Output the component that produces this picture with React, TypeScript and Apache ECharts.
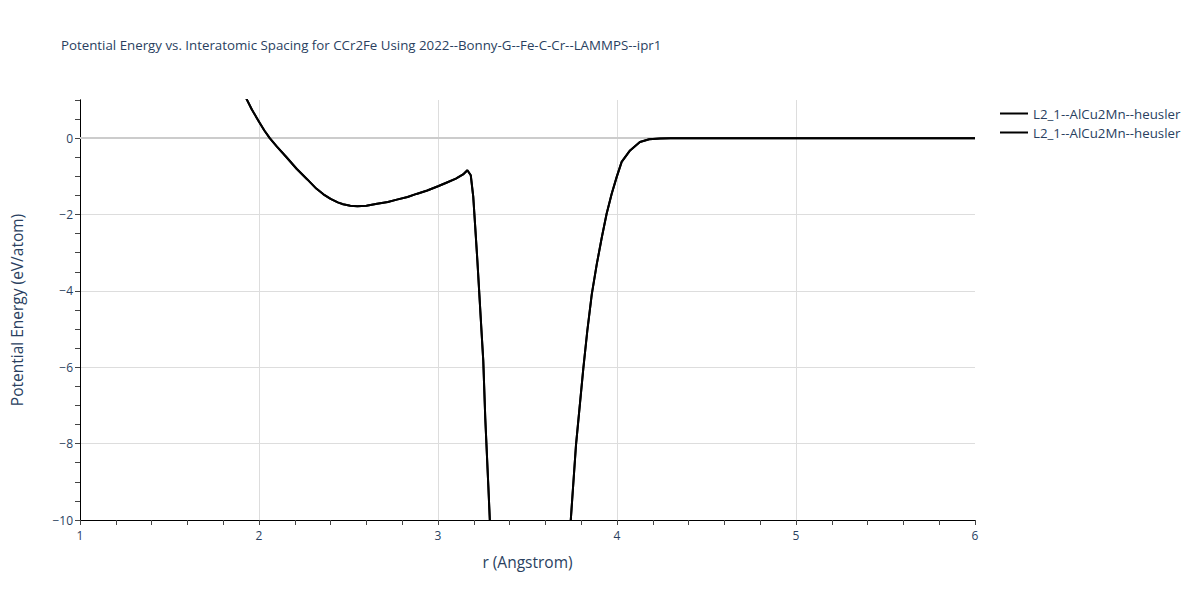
import React, { useEffect, useRef } from "react";
import * as echarts from "echarts";

const titleText = "Potential Energy vs. Interatomic Spacing for CCr2Fe Using 2022--Bonny-G--Fe-C-Cr--LAMMPS--ipr1";
const seriesNames = ["L2_1--AlCu2Mn--heusler", "L2_1--AlCu2Mn--heusler"];
const xAxisTitle = "r (Angstrom)";
const yAxisTitle = "Potential Energy (eV/atom)";

const rValues = [
  1.9, 1.93, 1.96, 2.0, 2.03, 2.06, 2.1, 2.15, 2.21, 2.27, 2.32, 2.36, 2.4, 2.44, 2.47, 2.51, 2.55,
  2.6, 2.66, 2.72, 2.77, 2.83, 2.88, 2.94, 3.0, 3.05, 3.1, 3.14, 3.164, 3.183, 3.197, 3.208, 3.22, 3.231,
  3.242, 3.253, 3.264, 3.281, 3.29, 3.3, 3.35, 3.5, 3.65, 3.72, 3.741, 3.771, 3.812, 3.834, 3.859,
  3.887, 3.915, 3.942, 3.97, 3.998, 4.026, 4.073, 4.128, 4.18, 4.24, 4.3, 4.5, 5.0, 5.5, 6.0,
];
const energyValues = [
  1.3, 1.03, 0.75, 0.43, 0.2, 0.0, -0.22, -0.48, -0.8, -1.08, -1.32, -1.47, -1.59, -1.68, -1.73, -1.77, -1.78,
  -1.77, -1.72, -1.67, -1.61, -1.54, -1.46, -1.37, -1.26, -1.16, -1.06, -0.95, -0.84, -0.97, -1.54, -2.33, -3.21, -4.09,
  -4.97, -5.84, -7.33, -9.09, -10.05, -11.3, -17, -25, -17, -11.5, -10.05, -8.03, -6.02, -5.05, -4.09,
  -3.3, -2.6, -1.98, -1.46, -1.02, -0.62, -0.32, -0.1, -0.03, -0.01, 0, 0, 0, 0, 0,
];

const xTicks = { min: 1, max: 6, interval: 1 };
const yTicks = { min: -10, max: 1, interval: 2, minorInterval: 0.5 };

const FONT = "'Open Sans', verdana, arial, sans-serif";
const TEXT_COLOR = "#2a3f5f";
const GRID_COLOR = "#dddddd";
const CLEAR = "rgba(0,0,0,0)";

export default function App() {
  const ref = useRef<HTMLDivElement>(null);
  useEffect(() => {
    if (!ref.current) return;
    const chart = echarts.init(ref.current, undefined, { renderer: "svg" });
    const data = rValues.map((r, i) => [r, energyValues[i]]);
    const fmt = (v: number) => String(v).replace("-", "\u2212");
    chart.setOption({
      animation: false,
      backgroundColor: "#fff",
      textStyle: { fontFamily: FONT },
      title: {
        text: titleText,
        left: 61,
        top: 38,
        padding: 0,
        textStyle: { fontSize: 13.3, fontWeight: "normal", color: TEXT_COLOR, fontFamily: FONT },
      },
      legend: [0, 1].map((i) => ({
        data: [seriesNames[i]],
        left: 1000,
        top: 107 + i * 19,
        orient: "vertical",
        icon: "rect",
        itemWidth: 28,
        itemHeight: 2,
        itemGap: 6,
        padding: 0,
        textStyle: { fontSize: 13.3, color: TEXT_COLOR, fontFamily: FONT },
      })),
      grid: { left: 80, right: 225, top: 100, bottom: 80, containLabel: false },
      xAxis: {
        type: "value",
        min: xTicks.min,
        max: xTicks.max,
        interval: xTicks.interval,
        position: "bottom",
        name: xAxisTitle,
        nameLocation: "middle",
        nameGap: 34,
        nameTextStyle: { fontSize: 15.5, color: TEXT_COLOR, fontFamily: FONT },
        axisLine: { show: true, onZero: false, lineStyle: { color: "#000", width: 1 } },
        axisTick: { show: true, length: 5, lineStyle: { color: "#444" } },
        minorTick: { show: true, splitNumber: 5, length: 5, lineStyle: { color: "#444" } },
        axisLabel: { fontSize: 12, color: TEXT_COLOR, margin: 9, fontFamily: FONT },
        splitLine: {
          show: true,
          lineStyle: {
            color: [CLEAR, GRID_COLOR, GRID_COLOR, GRID_COLOR, GRID_COLOR, CLEAR],
            width: 1,
          },
        },
      },
      yAxis: [
        {
          type: "value",
          min: yTicks.min,
          max: yTicks.max,
          interval: yTicks.interval,
          position: "left",
          name: yAxisTitle,
          nameLocation: "middle",
          nameGap: 55,
          nameTextStyle: { fontSize: 15.5, color: TEXT_COLOR, fontFamily: FONT },
          axisLine: { show: true, onZero: false, lineStyle: { color: "#000", width: 1 } },
          axisTick: { show: false },
          axisLabel: {
            fontSize: 12,
            color: TEXT_COLOR,
            margin: 7,
            fontFamily: FONT,
            showMaxLabel: false,
            formatter: (v: number) => (v > 0 ? "" : fmt(v)),
          },
          splitLine: {
            show: true,
            lineStyle: {
              color: [CLEAR, GRID_COLOR, GRID_COLOR, GRID_COLOR, GRID_COLOR, CLEAR, CLEAR],
              width: 1,
            },
          },
        },
        {
          type: "value",
          min: yTicks.min,
          max: yTicks.max,
          interval: yTicks.minorInterval,
          position: "left",
          offset: 0,
          axisLine: { show: true, onZero: false, lineStyle: { color: "#000", width: 1 } },
          axisTick: { show: true, length: 5, lineStyle: { color: "#444" } },
          axisLabel: { show: false },
          splitLine: { show: false },
        },
      ],
      series: seriesNames.map((name, i) => ({
        type: "line",
        name,
        data,
        yAxisIndex: 0,
        showSymbol: false,
        symbol: "none",
        clip: true,
        lineStyle: { color: "#000", width: 2 },
        itemStyle: { color: "#000" },
        z: 3,
        markLine:
          i === 0
            ? {
                silent: true,
                symbol: "none",
                z: 1,
                label: { show: false },
                lineStyle: { color: "#cccccc", width: 2, type: "solid" },
                data: [{ yAxis: 0 }],
              }
            : undefined,
      })),
    });
    return () => chart.dispose();
  }, []);
  return <div ref={ref} style={{ width: 1200, height: 600, position: "absolute", left: 0, top: 0 }} />;
}
